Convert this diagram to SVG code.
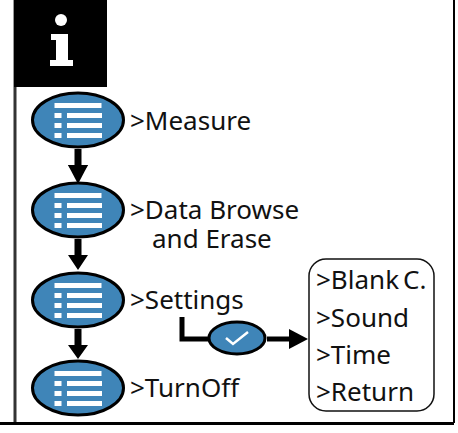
<svg xmlns="http://www.w3.org/2000/svg" width="458" height="433" viewBox="0 0 458 433">
<style>
text{font-family:"Noto Sans","Open Sans",sans-serif;font-size:26px;fill:#111}
.ov{fill:#3f85b8;stroke:#000;stroke-width:3}
.w{fill:#fff}
.c{stroke:#000;stroke-width:6;fill:none}
</style>
<defs>
<g id="menu">
<ellipse class="ov" cx="0" cy="0" rx="45.500" ry="27"/>
<rect class="w" x="-23.500" y="-17" width="47" height="5"/>
<rect class="w" x="-23.500" y="-7" width="7" height="5"/>
<rect class="w" x="-11" y="-7" width="35" height="5"/>
<rect class="w" x="-23.500" y="3" width="7" height="5"/>
<rect class="w" x="-11" y="3" width="35" height="5"/>
<rect class="w" x="-23.500" y="13" width="7" height="5"/>
<rect class="w" x="-11" y="13" width="35" height="5"/>
</g>
<marker id="ah" markerUnits="userSpaceOnUse" markerWidth="20" markerHeight="20" refX="0" refY="10" orient="auto"><path d="M0 0L19 10L0 20Z" fill="#000"/></marker>
</defs>
<rect width="458" height="433" fill="#fff"/>
<g id="frame">
<path d="M15 0V423" stroke="#333" stroke-width="3" fill="none"/>
<path d="M0 423.500H454" stroke="#000" stroke-width="3" fill="none"/>
<path d="M454 0V423" stroke="#000" stroke-width="2" fill="none"/>
</g>
<g id="info-icon">
<rect x="14" y="0" width="93" height="87" fill="#000"/>
<circle class="w" cx="61" cy="20" r="6"/>
<path class="w" d="M51 34H68V60H73V66H50V60H56V40H51Z"/>
</g>
<g id="connectors">
<path class="c" d="M78 149V165" marker-end="url(#ah)" style="stroke-width:7"/>
<path class="c" d="M78 239V255" style="stroke-width:7"/>
<path class="c" d="M78 329V345" style="stroke-width:7"/>
<path d="M68 165H88L78 180Z M68 255H88L78 270Z M68 345H88L78 359Z" fill="#000"/>
<path d="M182 317V339H208" stroke="#000" stroke-width="5" fill="none"/>
<path d="M267 339H290" stroke="#000" stroke-width="5" fill="none"/>
<path d="M289 329L308 339L289 349Z" fill="#000"/>
</g>
<g id="node-measure"><use href="#menu" x="78" y="120"/><text x="130" y="130">&gt;Measure</text></g>
<g id="node-data"><use href="#menu" x="78" y="210"/><text x="130" y="219">&gt;Data Browse</text><text x="152" y="248">and Erase</text></g>
<g id="node-settings"><use href="#menu" x="78" y="300"/><text x="130" y="309">&gt;Settings</text></g>
<g id="node-turnoff"><use href="#menu" x="78" y="388"/><text x="130" y="397">&gt;TurnOff</text></g>
<g id="node-check">
<ellipse class="ov" cx="237" cy="338" rx="28" ry="16"/>
<path d="M226 338L233 344L248 332" stroke="#fff" stroke-width="2.500" fill="none"/>
</g>
<g id="node-options">
<rect x="309" y="259" width="125" height="152" rx="17" fill="#fff" stroke="#111" stroke-width="1.500"/>
<text x="316" y="289">&gt;Blank</text><text x="403" y="289">C.</text>
<text x="316" y="327">&gt;Sound</text>
<text x="316" y="364">&gt;Time</text>
<text x="316" y="401">&gt;Return</text>
</g>
</svg>
